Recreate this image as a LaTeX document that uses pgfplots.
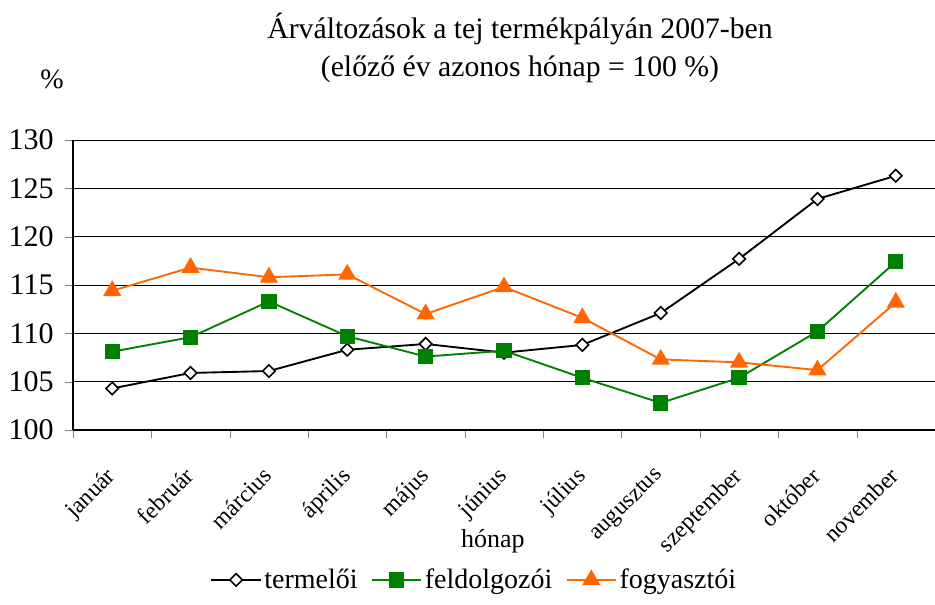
\documentclass[border=0pt]{standalone}
\usepackage{pgfplots}
\pgfplotsset{compat=1.18}
\usepackage{fontspec}
\setmainfont{Liberation Serif}
\definecolor{cgreen}{RGB}{0,128,0}
\definecolor{corange}{RGB}{255,102,0}
\begin{document}
\begin{tikzpicture}[x=0.75pt,y=0.75pt]
\useasboundingbox (0,0) rectangle (935,605);
\node[font=\fontsize{22.3}{28}\selectfont, align=center] at (520,557) {Árváltozások a tej termékpályán 2007-ben\\(előző év azonos hónap = 100 \%)};
\node[font=\fontsize{21}{24}\selectfont] at (52,526) {\%};
\begin{axis}[
  at={(73pt*0.75,175pt*0.75)}, anchor=south west,
  width=646.5pt, height=217.5pt, scale only axis,
  xmin=-0.5, xmax=10.5, ymin=100, ymax=130,
  ytick={100,105,...,130},
  xtick={0,...,10},
  xticklabels={január,február,március,április,május,június,július,augusztus,szeptember,október,november},
  minor xtick={-0.5,0.5,...,10.5},
  major x tick style={draw=none},
  axis x line*=bottom, axis y line*=left,
  tick align=outside,
  major tick length=6pt, minor tick length=6pt,
  ymajorgrids, grid style={black, line width=0.7pt},
  axis line style={-, black, line width=0.9pt},
  /pgf/number format/assume math mode=true,
  yticklabel style={font=\fontsize{22.5}{26}\selectfont, xshift=-5pt},
  xticklabel style={font=\fontsize{17.6}{21}\selectfont, xshift=-5.5pt, yshift=-16pt, rotate=45, anchor=north east},
  xlabel={hónap}, xlabel style={font=\fontsize{19.5}{23}\selectfont, at={(axis description cs:0.487,-0.385)}, anchor=center},
  legend style={at={(0.466,-0.517)}, anchor=center, draw=none, legend columns=3, font=\fontsize{21}{25}\selectfont, /tikz/every even column/.append style={column sep=8pt}},
  legend image code/.code={\draw[mark repeat=2,mark phase=2] plot coordinates {(0cm,0cm) (0.65cm,0cm) (1.3cm,0cm)};},
  legend cell align=left,
  clip=false,
]
\addplot[black, line width=1.4pt, mark=square*, mark options={fill=white, draw=black, line width=1.2pt, rotate=45}, mark size=3.3pt]
 coordinates {(0,104.3)(1,105.9)(2,106.1)(3,108.3)(4,108.9)(5,108.0)(6,108.8)(7,112.1)(8,117.7)(9,123.9)(10,126.3)};
\addplot[cgreen, line width=1.4pt, mark=square*, mark options={fill=cgreen, draw=cgreen}, mark size=5pt]
 coordinates {(0,108.1)(1,109.6)(2,113.3)(3,109.7)(4,107.6)(5,108.2)(6,105.4)(7,102.8)(8,105.4)(9,110.2)(10,117.4)};
\addplot[corange, line width=1.4pt, mark=triangle*, mark options={fill=corange, draw=corange}, mark size=6.5pt]
 coordinates {(0,114.4)(1,116.8)(2,115.8)(3,116.1)(4,112.0)(5,114.8)(6,111.6)(7,107.3)(8,107.0)(9,106.2)(10,113.2)};
\legend{termelői,feldolgozói,fogyasztói}
\end{axis}
\end{tikzpicture}
\end{document}
